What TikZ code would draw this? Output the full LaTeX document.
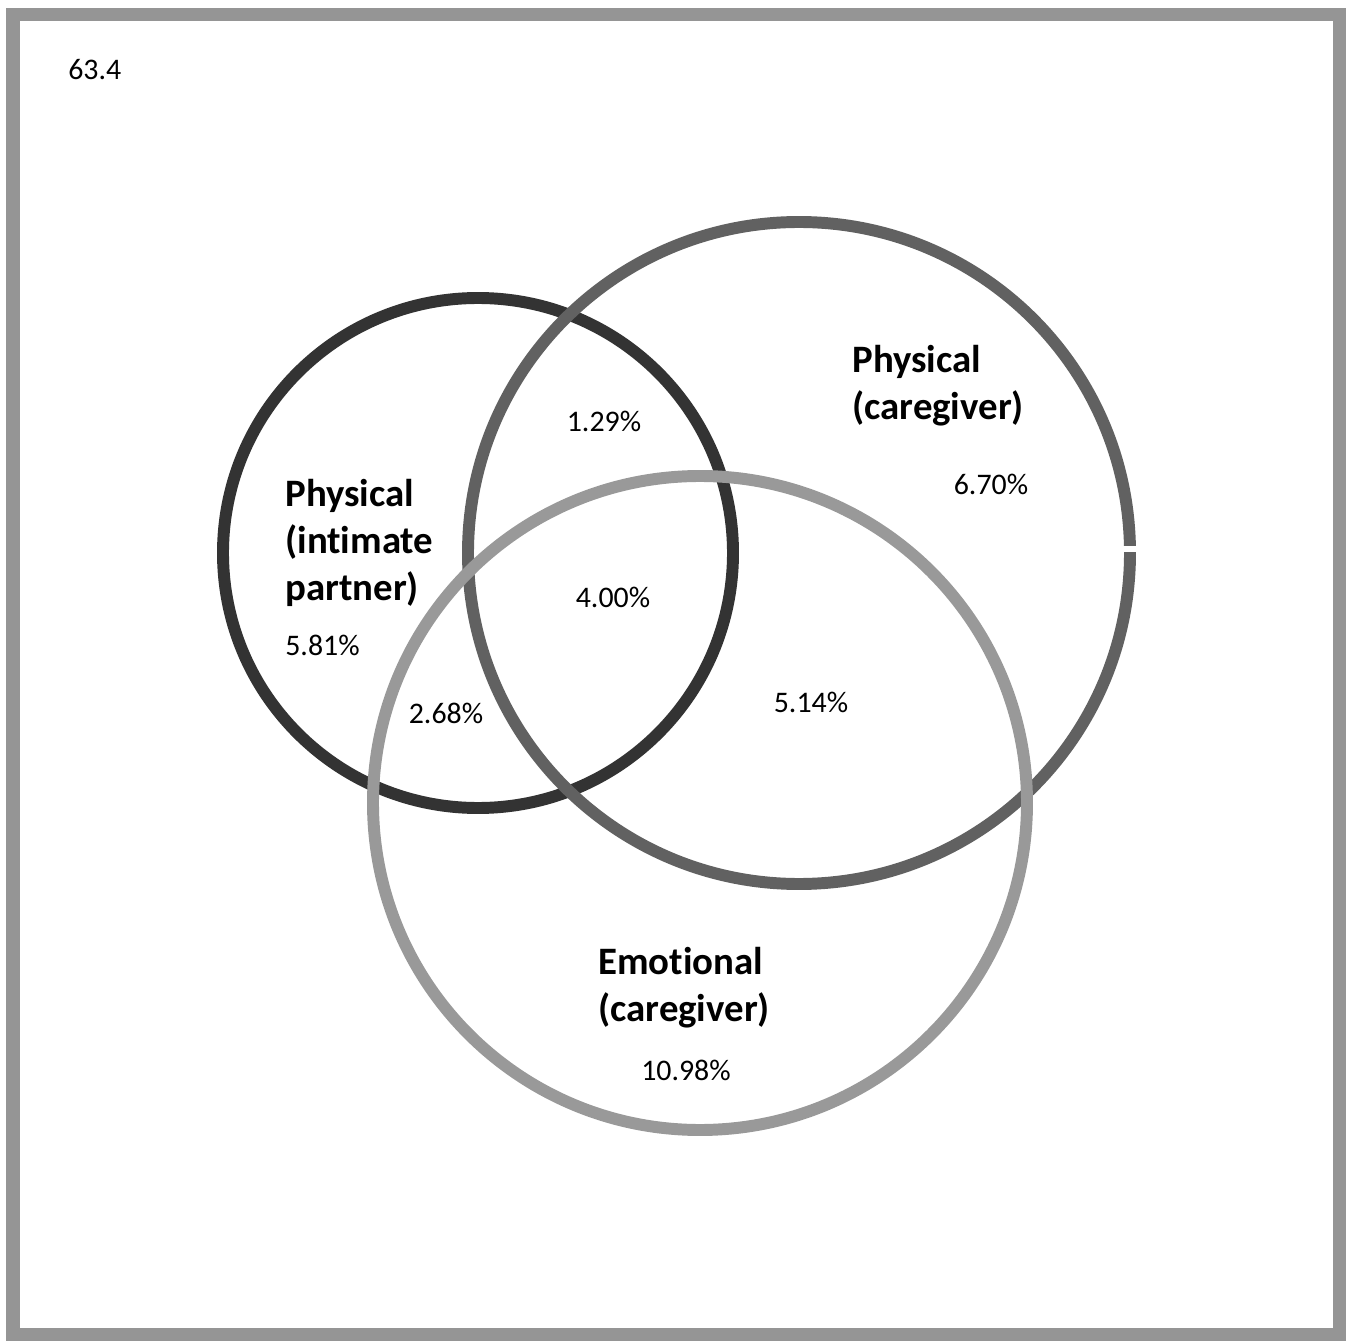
\documentclass[tikz,border=0pt]{standalone}
\usepackage{fontspec}
\setmainfont{Carlito}[Ligatures={NoCommon,NoRare}]
\tikzset{
  ring/.style={line width=6.8pt},
  pct/.style={inner sep=0pt, font=\fontsize{17}{20}\selectfont},
  lab/.style={inner sep=0pt, anchor=west, align=left, font=\fontsize{22.1}{26.6}\selectfont\bfseries}
}
\begin{document}
\begin{tikzpicture}[x=0.02cm, y=-0.02cm, line join=round]
	\useasboundingbox (0,0) rectangle (1350,1341);
	\definecolor{khung}{gray}{0.585}
	\definecolor{dam}{gray}{0.2}
	\definecolor{vua}{gray}{0.38}
	\definecolor{nhat}{gray}{0.6}
	\draw[khung, line width=7.4pt, line join=miter] (13,15) rectangle (1339,1334); % khung ngoai
	\draw[ring, dam] (478,553) circle[radius=255];  % intimate partner
	\draw[ring, vua] (799,553) circle[radius=331];  % caregiver physical
	\draw[white, line width=3pt] (1118,549)--(1142,549);
	\draw[ring, nhat] (700,803) circle[radius=327]; % caregiver emotional
	\path
	(68,70) node[pct, anchor=west] (tong) {63.4}
	(285,543) node[lab] (tenA) {Physical\\(intimate\\partner)}
	(852,386) node[lab] (tenB) {Physical\\(caregiver)}
	(598,988) node[lab] (tenC) {Emotional\\(caregiver)}
	(285,645) node[pct, anchor=west] (chiA) {5.81\%}
	(991,484) node[pct] (chiB) {6.70\%}
	(686,1070) node[pct] (chiC) {10.98\%}
	(604,421) node[pct] (AB) {1.29\%}
	(446,713) node[pct] (AC) {2.68\%}
	(811,702) node[pct] (BC) {5.14\%}
	(613,597) node[pct] (ABC) {4.00\%};
\end{tikzpicture}
\end{document}
